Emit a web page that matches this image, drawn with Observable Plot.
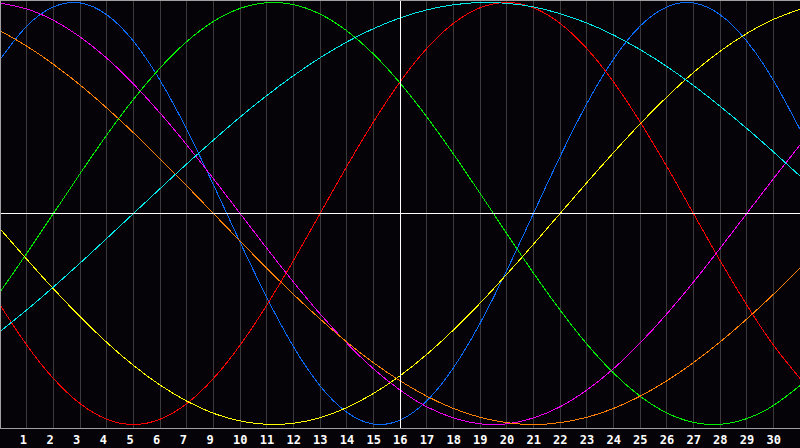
<!DOCTYPE html>
<html>
<head>
<meta charset="utf-8">
<script src="https://cdn.jsdelivr.net/npm/d3@7"></script>
<script src="https://cdn.jsdelivr.net/npm/@observablehq/plot@0.6"></script>
<style>
  html, body { margin: 0; padding: 0; background: #050307; }
  #chart svg { display: block; }
</style>
</head>
<body>
<div id="chart"></div>
<script>
// Day index along the x axis (0 = left edge, 30 = right edge)
const days = [0,1,2,3,4,5,6,7,8,9,10,11,12,13,14,15,16,17,18,19,20,21,22,23,24,25,26,27,28,29,30];

// Tick positions and their labels (label 8 is absent in the reference)
const dayTicks = [1,2,3,4,5,6,7,8,9,10,11,12,13,14,15,16,17,18,19,20,21,22,23,24,25,26,27,28,29];
const dayLabels = ["1","2","3","4","5","6","7","9","10","11","12","13","14","15","16","17","18","19","20","21","22","23","24","25","26","27","28","29","30"];
const centerDay = 15;

// Series values, one per day
const physical     = [0.731,0.888,0.979,0.998,0.942,0.817,0.631,0.398,0.136,-0.136,-0.398,-0.631,-0.817,-0.942,-0.998,-0.979,-0.888,-0.731,-0.520,-0.270,0,0.270,0.520,0.731,0.888,0.979,0.998,0.942,0.817,0.631,0.398];
const emotional    = [-0.434,-0.624,-0.782,-0.901,-0.975,-1,-0.975,-0.901,-0.782,-0.624,-0.434,-0.223,0,0.223,0.434,0.624,0.782,0.901,0.975,1,0.975,0.901,0.782,0.624,0.434,0.223,0,-0.223,-0.434,-0.624,-0.782];
const intellectual = [-0.372,-0.189,0,0.189,0.372,0.541,0.690,0.815,0.910,0.972,0.999,0.990,0.945,0.866,0.756,0.618,0.458,0.282,0.095,-0.095,-0.282,-0.458,-0.618,-0.756,-0.866,-0.945,-0.990,-0.999,-0.972,-0.910,-0.815];
const intuitive    = [0.997,0.969,0.916,0.837,0.736,0.614,0.476,0.325,0.165,0,-0.165,-0.325,-0.476,-0.614,-0.736,-0.837,-0.916,-0.969,-0.997,-0.997,-0.969,-0.916,-0.837,-0.736,-0.614,-0.476,-0.325,-0.165,0,0.165,0.325];
const aesthetic    = [-0.073,-0.217,-0.357,-0.489,-0.611,-0.720,-0.813,-0.889,-0.947,-0.983,-0.999,-0.994,-0.968,-0.920,-0.853,-0.769,-0.668,-0.552,-0.425,-0.288,-0.146,0,0.146,0.288,0.425,0.552,0.668,0.769,0.853,0.920,0.968];
const awareness    = [0.866,0.793,0.707,0.609,0.5,0.383,0.259,0.131,0,-0.131,-0.259,-0.383,-0.5,-0.609,-0.707,-0.793,-0.866,-0.924,-0.966,-0.991,-1,-0.991,-0.966,-0.924,-0.866,-0.793,-0.707,-0.609,-0.5,-0.383,-0.259];
const spiritual    = [-0.559,-0.457,-0.348,-0.235,-0.118,0,0.118,0.235,0.348,0.457,0.559,0.653,0.738,0.813,0.876,0.927,0.965,0.989,1.000,0.996,0.979,0.947,0.903,0.846,0.777,0.697,0.607,0.508,0.403,0.292,0.177];

const seriesNames  = ["physical","emotional","intellectual","intuitive","aesthetic","awareness","spiritual"];
const seriesValues = [physical, emotional, intellectual, intuitive, aesthetic, awareness, spiritual];
const seriesColors = ["#0a6cff","#ff0000","#00ee00","#ee00ee","#ffff00","#ff8000","#00e8e8"];

const rows = [];
seriesNames.forEach((name, s) => {
  days.forEach((d, i) => rows.push({series: name, day: d, value: seriesValues[s][i]}));
});

const chart = Plot.plot({
  width: 800,
  height: 448,
  marginTop: 0,
  marginLeft: 0,
  marginRight: 0,
  marginBottom: 20,
  style: {background: "#050307", color: "white", fontFamily: "DejaVu Sans Mono", fontSize: "12px", fontWeight: "bold"},
  x: {domain: [0, 30], range: [-0.4, 799.6]},
  y: {domain: [-1, 1], range: [424, 2], axis: null},
  color: {domain: seriesNames, range: seriesColors},
  marks: [
    Plot.ruleX(dayTicks, {stroke: "#3a3a3a", strokeWidth: 1, shapeRendering: "crispEdges"}),
    Plot.line(rows, {x: "day", y: "value", z: "series", stroke: "series", strokeWidth: 1, curve: "natural", shapeRendering: "crispEdges"}),
    Plot.ruleX([centerDay], {stroke: "white", strokeWidth: 1, shapeRendering: "crispEdges"}),
    Plot.ruleY([0], {stroke: "white", strokeWidth: 1, shapeRendering: "crispEdges"}),
    Plot.frame({stroke: "#a0a0a0", strokeWidth: 1, shapeRendering: "crispEdges"}),
    Plot.axisX(dayTicks, {
      tickFormat: d => dayLabels[d - 1],
      tickSize: 0,
      tickPadding: 7,
      textAnchor: "start",
      dx: -7,
      fill: "white",
      fontWeight: "bold",
      fontSize: 12,
      fontFamily: "DejaVu Sans Mono",
      label: null
    })
  ]
});

document.getElementById("chart").appendChild(chart);
</script>
</body>
</html>
